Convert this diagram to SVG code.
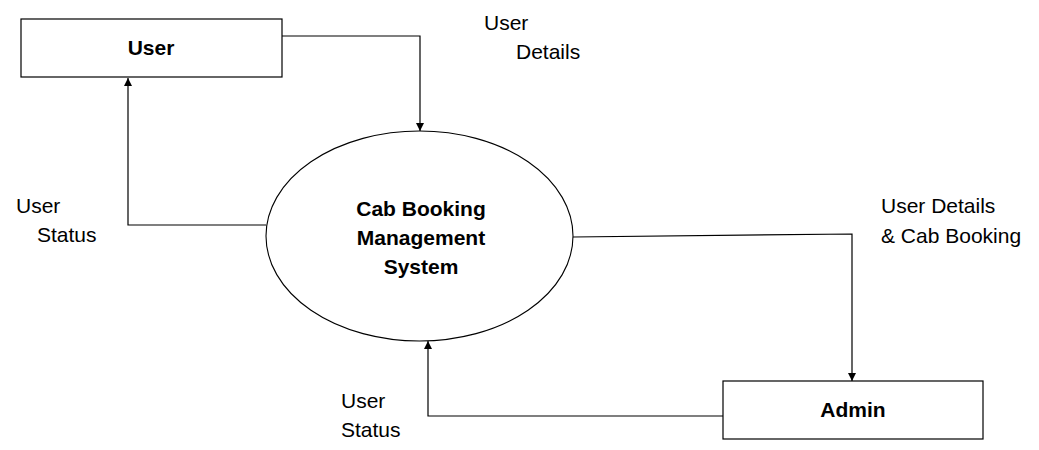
<svg xmlns="http://www.w3.org/2000/svg" width="1039" height="450" viewBox="0 0 1039 450">
<style>
.box{fill:#fff;stroke:#000;stroke-width:1.2}
.ell{fill:#fff;stroke:#000;stroke-width:1.1}
.ln{fill:none;stroke:#000;stroke-width:1.2}
.t{font-family:"Liberation Sans",Arial,sans-serif;font-size:21px;fill:#000}
.b{font-family:"Liberation Sans",Arial,sans-serif;font-size:21px;font-weight:bold;fill:#000}
</style>
<defs>
<marker id="arr" viewBox="0 0 10 10" refX="10" refY="5" markerWidth="8" markerHeight="8" markerUnits="userSpaceOnUse" orient="auto">
<path d="M0,0 L10,5 L0,10 z" fill="#000"/>
</marker>
</defs>
<rect width="1039" height="450" fill="#fff"/>
<g id="connectors">
<polyline class="ln" points="282,36 420,36 420,131" marker-end="url(#arr)"/>
<polyline class="ln" points="266,225 128,225 128,78" marker-end="url(#arr)"/>
<polyline class="ln" points="573,237 852,234 852,381" marker-end="url(#arr)"/>
<polyline class="ln" points="723,416 428,416 428,341" marker-end="url(#arr)"/>
</g>
<g id="labels">
<text class="t" x="484" y="30">User</text>
<text class="t" x="516" y="59">Details</text>
<text class="t" x="16" y="213">User</text>
<text class="t" x="37" y="242">Status</text>
<text class="t" x="881" y="213">User Details</text>
<text class="t" x="881" y="243">&amp; Cab Booking</text>
<text class="t" x="341" y="408">User</text>
<text class="t" x="341" y="437">Status</text>
</g>
<g id="user">
<rect class="box" x="21" y="19" width="261" height="58"/>
<text class="b" x="151" y="55" text-anchor="middle">User</text>
</g>
<g id="system">
<ellipse class="ell" cx="419.5" cy="236" rx="153.5" ry="105"/>
<text class="b" x="421" y="216" text-anchor="middle">Cab Booking</text>
<text class="b" x="421" y="245" text-anchor="middle">Management</text>
<text class="b" x="421" y="274" text-anchor="middle">System</text>
</g>
<g id="admin">
<rect class="box" x="723" y="381" width="260" height="58"/>
<text class="b" x="853" y="417" text-anchor="middle">Admin</text>
</g>
</svg>
